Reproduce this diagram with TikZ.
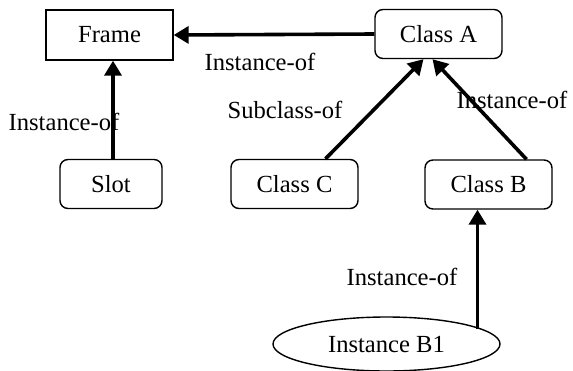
\documentclass[tikz,border=0pt]{standalone}
\usepackage{fontspec}
\setmainfont{Liberation Serif}
\usetikzlibrary{arrows.meta,shapes.geometric,calc}
\begin{document}
\begin{tikzpicture}[x=0.5pt,y=-0.5pt,
  every node/.style={font=\fontsize{12.3}{14}\selectfont, inner sep=0pt},
  sqbox/.style={draw, line width=0.7pt, minimum width=63.5pt, minimum height=25pt},
  rbox/.style={draw, line width=0.7pt, rounded corners=4pt, minimum height=24.5pt},
  ell/.style={draw, ellipse, line width=0.7pt, minimum width=113.5pt, minimum height=27pt},
  rel/.style={line width=1.8pt, -{Triangle[length=7.5pt,width=8.5pt]}},
  lbl/.style={}]
\useasboundingbox (0,0) rectangle (573,370);
\node[sqbox] (frame) at (109.5,35) {Frame};
\node[rbox, minimum width=63.5pt] (classA) at (438.5,34) {Class A};
\node[rbox, minimum width=51pt] (slot) at (111,184) {Slot};
\node[rbox, minimum width=63.5pt] (classC) at (294.5,184) {Class C};
\node[rbox, minimum width=63.5pt] (classB) at (488.5,184.5) {Class B};
\node[ell] (inst) at (386.5,344) {Instance B1};

\draw[rel] (classA.west) -- (frame.east);
\draw[rel] ($(slot.north)+(2,0)$) -- ($(frame.south)+(3.5,0)$);
\draw[rel] ($(classC.north)+(31,0)$) -- ($(classA.south)+(-15,0)$);
\draw[rel] ($(classB.north)+(38,0)$) -- ($(classA.south)+(-6,0)$);
\draw[rel] ($(inst.north)+(91,13)$) -- ($(classB.south)+(-11,0)$);

\node[lbl] (l1) at (260,62) {Instance-of};
\node[lbl] (l2) at (64,122) {Instance-of};
\node[lbl] (l3) at (285,110) {Subclass-of};
\node[lbl] (l4) at (512,100) {Instance-of};
\node[lbl] (l5) at (402,277) {Instance-of};
\end{tikzpicture}
\end{document}
